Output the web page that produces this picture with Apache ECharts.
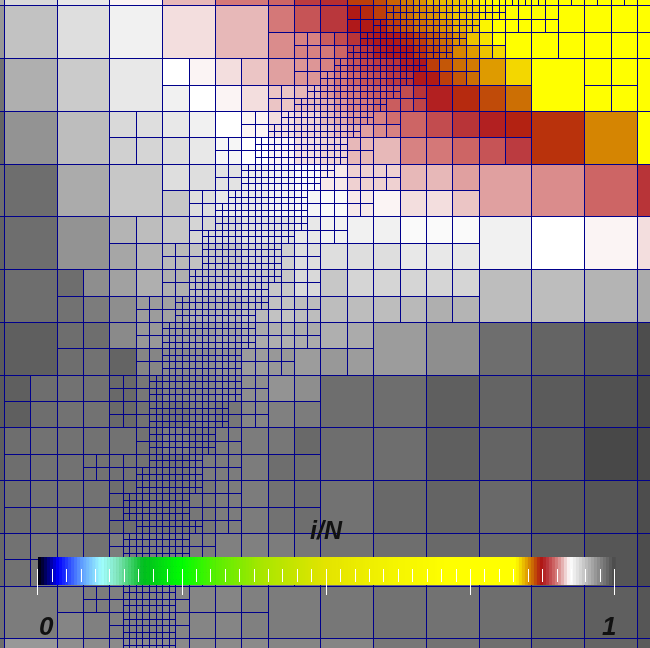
<!DOCTYPE html>
<html>
<head>
<meta charset="utf-8">
<style>html,body{margin:0;padding:0;background:#fff}#c{width:650px;height:648px}</style>
<script src="https://cdn.jsdelivr.net/npm/echarts@6/dist/echarts.min.js"></script>
</head>
<body>
<div id="c"></div>
<script>
// Refinement depth of the adaptive mesh; rows start at index -1, "d@n" = depth d from column n on.
const depthRuns = [
"0@-1 1@20 2@28 3@30 2@41 0@48",
"0@-1 1@20 2@26 3@29 2@38 1@42",
"0@-1 1@20 2@26 3@28 2@36 1@42",
"0@-1 1@20 2@22 3@27 2@35 1@38",
"0@-1 1@20 2@22 3@26 2@34 1@38",
"0@-1 1@12 2@22 3@25 2@32 1@36 0@40 1@44 0@48",
"0@-1 1@12 2@22 3@24 2@31 1@36 0@40 1@44 0@48",
"0@-1 1@12 2@20 3@23 2@30 1@32 0@40 1@44 0@48",
"0@-1 1@12 2@20 3@22 2@29 1@32 0@40 1@44 0@48",
"0@-1 1@8 2@18 3@21 2@28 1@30 0@40",
"0@-1 1@8 2@18 3@20 2@27 1@30 0@40",
"0@-1 1@8 2@16 3@19 2@26 1@28 0@40",
"0@-1 1@8 2@16 3@19 2@26 1@28 0@40",
"0@-1 1@12 2@16 3@18 2@25 1@30 0@36",
"0@-1 1@12 2@16 3@18 2@24 1@30 0@36",
"0@-1 1@12 2@14 3@17 2@23 1@28 0@36",
"0@-1 1@12 2@14 3@16 2@23 1@28 0@36",
"0@-1 1@8 2@14 3@16 2@23 1@26 0@36",
"0@-1 1@8 2@14 3@15 2@22 1@26 0@36",
"0@-1 1@8 2@12 3@15 2@21 1@24 0@36",
"0@-1 1@8 2@12 3@15 2@21 1@24 0@36",
"0@-1 1@4 2@12 3@14 2@21 1@24 0@36",
"0@-1 1@4 2@12 3@14 2@20 1@24 0@36",
"0@-1 1@4 2@10 3@13 2@20 1@24 0@36",
"0@-1 1@4 2@10 3@13 2@19 1@24 0@36",
"0@-1 1@4 2@10 3@12 2@19 1@24 0@28",
"0@-1 1@4 2@10 3@12 2@19 1@24 0@28",
"0@-1 1@4 2@10 3@12 2@18 1@22 0@28",
"0@-1 1@4 2@10 3@12 2@18 1@22 0@28",
"0@-1 1@0 2@8 3@11 2@18 1@20 0@24",
"0@-1 1@0 2@8 3@11 2@18 1@20 0@24",
"0@-1 1@0 2@8 3@11 2@17 1@20 0@24",
"0@-1 1@0 2@8 3@11 2@17 1@20 0@24",
"0@-1 1@0 2@10 3@11 2@16 1@18 0@24",
"0@-1 1@0 2@10 3@11 2@16 1@18 0@24",
"0@-1 1@0 2@6 3@11 2@15 1@18 0@24",
"0@-1 1@0 2@6 3@10 2@15 1@18 0@24",
"0@-1 1@0 2@8 3@10 2@15 1@18 0@24",
"0@-1 1@0 2@8 3@9 2@14 1@18 0@24",
"0@-1 1@0 2@8 3@9 2@14 1@18 0@24",
"0@-1 1@0 2@8 3@10 2@15 1@18 0@24",
"0@-1 1@0 2@8 3@9 2@14 1@16 0@24",
"0@-1 1@0 2@8 3@9 2@14 1@16 0@24",
"0@-1 1@0 2@8 3@9 2@14 1@16 0@24",
"0@-1 1@0 2@8 3@9 2@14 1@16 0@24",
"0@-1 1@4 2@6 3@9 2@13 1@14 0@20",
"0@-1 1@4 2@6 3@9 2@13 1@14 0@20",
"0@-1 1@4 2@8 3@9 2@13 1@14 0@20",
"0@-1 1@4 2@8 3@9 2@13 1@14 0@20",
"0@-1 1@4 2@8 3@9 2@13 1@14 0@20"
];
// Values i/N = 0.8 + code*0.002, coarse table: 26 rows x 26 columns, each starting at -1.
const coarseValues = [
"79 69 69 66 66 60 60 55 55 49 49 47 42 40 32 30 26 22 19 16 14 14 14 14 14 14",
"83 74 74 68 68 64 64 58 58 55 55 49 45 41 35 30 27 23 19 15 14 14 14 14 14 14",
"83 74 74 68 68 64 64 58 58 55 55 51 50 44 38 34 29 26 21 15 14 14 14 14 14 14",
"91 78 78 72 72 66 66 61 60 58 56 53 52 49 46 42 39 31 28 24 18 14 14 14 14 14",
"91 78 78 72 72 66 66 64 61 60 58 56 55 51 48 46 44 38 34 31 28 14 14 14 14 14",
"94 84 84 75 75 69 68 66 64 61 60 58 57 55 52 49 47 44 41 38 35 33 33 26 26 14",
"94 84 84 75 75 71 70 68 66 63 61 60 58 57 55 55 50 49 47 45 42 33 33 26 26 14",
"92 92 92 79 79 73 73 68 68 67 65 64 62 59 57 57 55 55 53 53 53 51 51 47 47 41",
"92 92 92 79 79 73 73 73 68 66 66 64 63 62 59 60 58 58 56 53 53 51 51 47 47 41",
"94 92 92 84 84 77 75 73 70 70 68 68 66 64 64 64 62 62 62 64 64 61 61 60 60 58",
"94 92 92 84 84 80 77 76 74 74 71 71 68 68 68 68 66 66 66 64 64 61 61 60 60 58",
"95 92 92 92 85 81 78 78 76 75 73 73 69 73 70 70 70 70 70 75 75 75 75 77 77 79",
"95 92 92 91 89 85 82 81 79 78 76 74 75 75 75 75 76 78 77 75 75 75 75 77 77 79",
"96 95 95 92 92 86 83 83 82 81 79 78 79 78 79 82 82 85 85 92 92 94 94 96 96 99",
"96 95 95 92 91 94 87 86 85 84 82 83 82 83 82 82 82 85 85 92 92 94 94 96 96 99",
"96 95 92 91 91 93 90 88 87 86 85 84 85 92 92 92 92 95 95 94 94 96 96 98 98 100",
"96 95 92 91 91 93 91 91 89 90 87 88 89 92 92 92 92 95 95 94 94 96 96 98 98 100",
"95 92 91 91 91 91 91 89 90 89 89 90 93 92 92 92 92 95 95 94 94 96 96 100 100 100",
"95 92 91 91 91 91 91 91 89 89 89 92 92 92 92 92 92 95 95 94 94 96 96 100 100 100",
"94 92 91 91 91 92 91 91 90 89 89 91 92 91 91 93 93 94 94 93 93 96 96 97 97 99",
"94 92 91 91 91 92 91 91 90 89 89 91 92 91 91 93 93 94 94 93 93 96 96 97 97 99",
"93 91 90 90 91 89 89 89 89 88 88 89 90 91 91 92 92 93 93 93 93 95 95 97 97 99",
"93 91 90 90 91 89 89 89 89 88 88 89 90 91 91 92 92 93 93 93 93 95 95 97 97 99",
"91 89 89 88 89 88 88 87 87 87 88 89 89 90 90 91 91 91 91 92 92 94 94 95 95 97",
"91 89 89 87 88 88 88 87 87 87 88 89 89 90 90 91 91 91 91 92 92 94 94 95 95 97",
"92 83 83 85 86 86 86 86 86 86 86 87 87 87 87 90 90 91 91 92 92 93 93 94 94 96"
];
// Finer values near the red and orange corner: rows -1..9, columns 24..41.
const hotValues = [
"40 40 32 32 31 29 27 25 22 21 20 17 15 14 14 14 14 14",
"41 41 36 34 32 30 28 26 25 22 20 19 16 15 14 14 14 14",
"42 42 37 36 35 32 30 28 27 25 22 20 15 14 14 14 14 14",
"46 44 41 38 37 36 34 32 30 28 25 20 17 14 14 14 14 14",
"49 47 43 41 38 37 36 33 31 29 26 24 20 18 14 14 14 14",
"50 48 45 43 42 41 38 37 32 30 28 27 24 24 18 18 14 14",
"51 49 47 45 44 42 41 37 36 32 30 28 24 24 18 18 14 14",
"52 50 49 47 46 45 44 41 38 38 34 34 31 31 28 28 14 14",
"54 52 50 49 47 46 45 43 38 38 34 34 31 31 28 28 14 14",
"55 54 52 51 50 48 47 47 44 44 41 41 38 38 35 35 33 33",
"56 55 54 53 51 50 47 47 44 44 41 41 38 38 35 35 33 33"
];
// Colour scale: i/N, r, g, b
const colormapStops = [
[0,0,0,0],[.035,0,0,255],[.073,90,150,255],[.11,160,255,255],[.137,130,230,190],
[.182,0,190,30],[.25,0,255,0],[.31,90,240,0],[.39,170,230,0],[.5,228,228,0],
[.62,245,245,0],[.72,255,255,0],[.828,255,255,0],[.838,240,205,0],[.848,222,155,0],
[.858,200,100,5],[.866,185,50,12],[.873,175,22,22],[.883,185,55,60],[.895,207,105,105],
[.907,225,165,165],[.916,243,222,222],[.922,255,255,255],[1,72,72,72]
];
const colorbarLevels = 192;
const scaleTitle = "i/N";
const scaleMin = "0";
const scaleMax = "1";

function colorOf(t){
  const s = colormapStops;
  for (let i = 1; i < s.length; i++) {
    if (t <= s[i][0]) {
      const f = (t - s[i-1][0]) / (s[i][0] - s[i-1][0]);
      const c = [1,2,3].map(k => Math.round(s[i-1][k] + f * (s[i][k] - s[i-1][k])));
      return 'rgb(' + c.join(',') + ')';
    }
  }
  return 'rgb(72,72,72)';
}
const depthMap = depthRuns.map(row => {
  const out = {};
  const toks = row.split(' ').map(t => t.split('@').map(Number));
  for (let n = -1; n <= 48; n++) {
    let d = 0;
    toks.forEach(t => { if (n >= t[1]) d = t[0]; });
    out[n] = d;
  }
  return out;
});
const coarse = coarseValues.map(r => r.split(' ').map(Number));
const hot = hotValues.map(r => r.split(' ').map(Number));
function codeAt(m, n){
  if (m <= 9 && n >= 24 && n <= 41) return hot[m + 1][n - 24];
  return coarse[Math.floor(m / 2) + 1][Math.floor(n / 2) + 1];
}
const cells = [];
const seen = new Set();
for (let m = -1; m <= 48; m++) {
  for (let n = -1; n <= 48; n++) {
    const d = depthMap[m + 1][n];
    if (d === 3) {
      const t = 0.8 + codeAt(m, n) * 0.002;
      [[0,0],[.5,0],[0,.5],[.5,.5]].forEach(o => cells.push([n + o[0], m + o[1], .5, t]));
    } else {
      const s = Math.pow(2, 2 - d);
      const bn = Math.floor(n / s) * s, bm = Math.floor(m / s) * s;
      const key = bm + '_' + bn + '_' + s;
      if (seen.has(key)) continue;
      seen.add(key);
      let sum = 0, cnt = 0;
      for (let a = Math.max(bm, -1); a < bm + s && a <= 48; a++)
        for (let b = Math.max(bn, -1); b < bn + s && b <= 48; b++) { sum += codeAt(a, b); cnt++; }
      cells.push([bn, bm, s, 0.8 + (sum / cnt) * 0.002]);
    }
  }
}
const barData = [];
for (let i = 0; i < colorbarLevels; i++) barData.push([i / colorbarLevels, (i + 1) / colorbarLevels]);

function cellBox(api){
  const x = api.value(0), y = api.value(1), s = api.value(2);
  const a = api.coord([x, y]), b = api.coord([x + s, y + s]);
  return [Math.floor(a[0]), Math.floor(a[1]), Math.floor(b[0]), Math.floor(b[1])];
}
const chart = echarts.init(document.getElementById('c'), null, {renderer: 'canvas'});
chart.setOption({
  animation: false,
  backgroundColor: '#808080',
  grid: [
    {left: 0, top: 0, width: 650, height: 648},
    {left: 38, top: 557, width: 577, height: 28},
    {left: 37.5, top: 557, width: 577, height: 12}
  ],
  xAxis: [
    {gridIndex: 0, type: 'value', min: -0.341, max: 48.95, show: false},
    {gridIndex: 1, type: 'value', min: 0, max: 1, show: false},
    {gridIndex: 2, type: 'value', min: 0, max: 1, interval: 0.25, z: 20, splitLine: {show: false},
     axisLine: {show: false}, axisLabel: {show: false},
     axisTick: {show: true, length: 26, lineStyle: {color: '#fff', width: 1}},
     minorTick: {show: true, splitNumber: 10, length: 13, lineStyle: {color: '#fff', width: 1}},
     minorSplitLine: {show: false}}
  ],
  yAxis: [
    {gridIndex: 0, type: 'value', min: -0.447, max: 48.69, inverse: true, show: false},
    {gridIndex: 1, type: 'value', min: 0, max: 1, show: false},
    {gridIndex: 2, type: 'value', min: 0, max: 1, show: false}
  ],
  series: [
    {
      type: 'custom', xAxisIndex: 0, yAxisIndex: 0, z: 1, silent: true, clip: false,
      data: cells, encode: {x: 0, y: 1}, progressive: 0,
      renderItem: function (params, api) {
        const b = cellBox(api);
        return {type: 'rect', shape: {x: b[0], y: b[1], width: b[2] - b[0], height: b[3] - b[1]},
          style: {fill: colorOf(api.value(3))}};
      }
    },
    {
      type: 'custom', xAxisIndex: 0, yAxisIndex: 0, z: 2, silent: true, clip: false,
      data: cells, encode: {x: 0, y: 1}, progressive: 0,
      renderItem: function (params, api) {
        const b = cellBox(api);
        return {type: 'rect', shape: {x: b[0] + .5, y: b[1] + .5, width: b[2] - b[0], height: b[3] - b[1]},
          style: {fill: 'none', stroke: '#00008b', lineWidth: 1}};
      }
    },
    {
      type: 'custom', xAxisIndex: 1, yAxisIndex: 1, z: 5, silent: true, clip: false,
      data: barData, encode: {x: [0, 1]}, progressive: 0,
      renderItem: function (params, api) {
        const a = api.coord([api.value(0), 1]), b = api.coord([api.value(1), 0]);
        return {
          type: 'rect',
          shape: {x: a[0], y: a[1], width: b[0] - a[0] + .6, height: b[1] - a[1]},
          style: {fill: colorOf(api.value(0) + .5 / colorbarLevels)}
        };
      }
    }
  ],
  graphic: [
    {type: 'text', z: 30, left: 310, top: 520, style: {text: scaleTitle, fill: '#111', font: 'italic bold 25px "Liberation Sans"'}},
    {type: 'text', z: 30, left: 39, top: 615, style: {text: scaleMin, fill: '#111', font: 'italic bold 26px "Liberation Sans"'}},
    {type: 'text', z: 30, left: 602, top: 615, style: {text: scaleMax, fill: '#111', font: 'italic bold 26px "Liberation Sans"'}}
  ]
});
</script>
</body>
</html>
